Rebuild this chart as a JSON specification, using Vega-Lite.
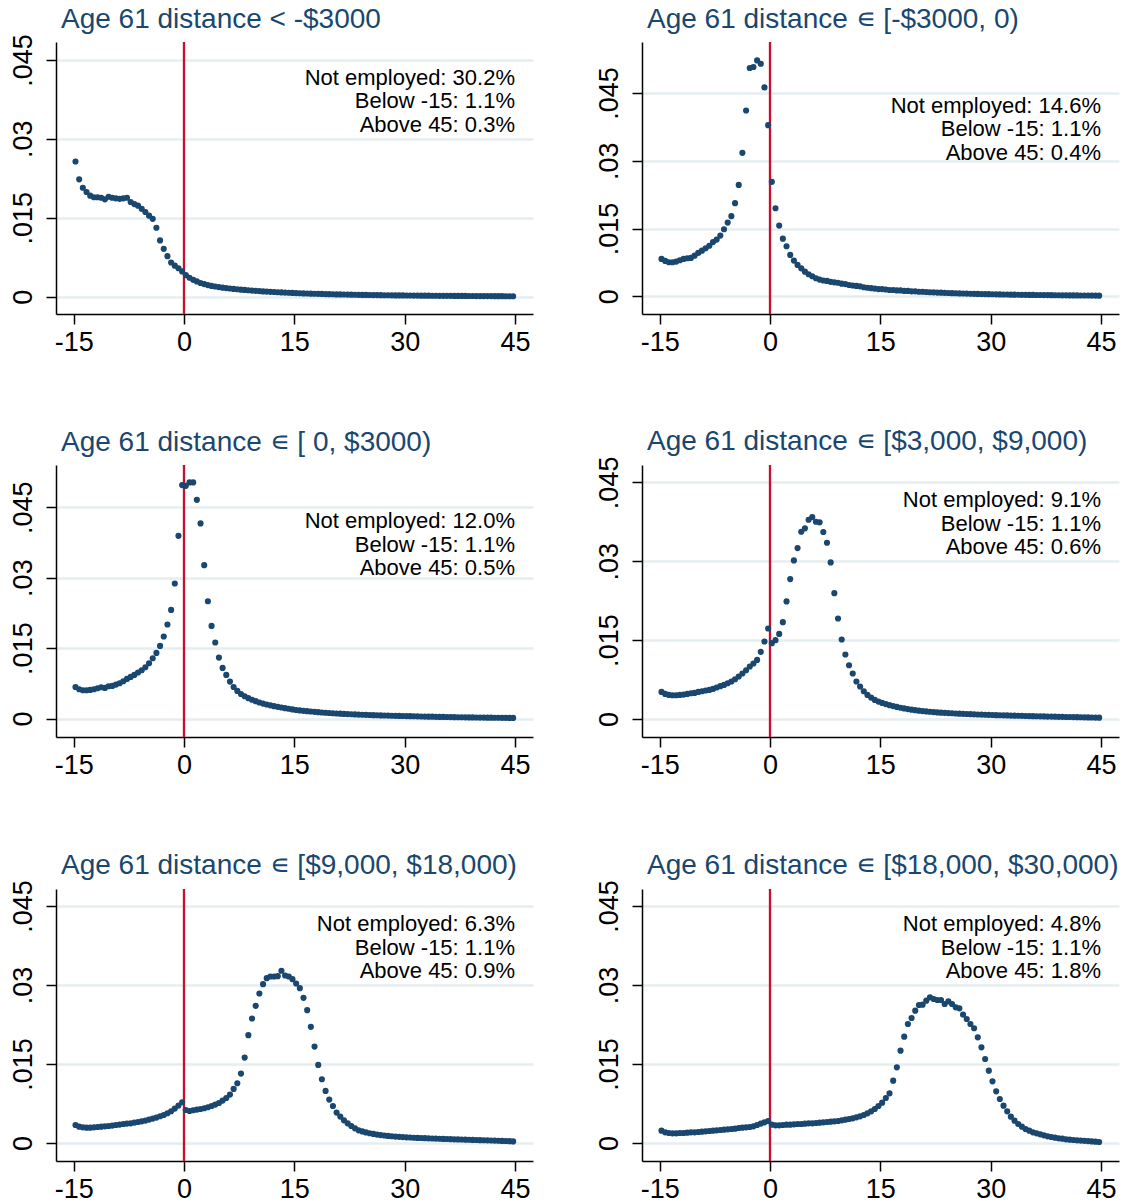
{
"$schema": "https://vega.github.io/schema/vega-lite/v6.json",
"background": "white",
"padding": {"left": 8, "top": 5, "right": 4, "bottom": 4},
"datasets": {
"p1": [{"x":-14.75,"y":0.0257},{"x":-14.25,"y":0.0223},{"x":-13.75,"y":0.0207},{"x":-13.25,"y":0.0199},{"x":-12.75,"y":0.0192},{"x":-12.25,"y":0.0189},{"x":-11.75,"y":0.0189},{"x":-11.25,"y":0.0188},{"x":-10.75,"y":0.0185},{"x":-10.25,"y":0.019},{"x":-9.75,"y":0.0188},{"x":-9.25,"y":0.0187},{"x":-8.75,"y":0.0186},{"x":-8.25,"y":0.0187},{"x":-7.75,"y":0.0188},{"x":-7.25,"y":0.018},{"x":-6.75,"y":0.0176},{"x":-6.25,"y":0.0173},{"x":-5.75,"y":0.0167},{"x":-5.25,"y":0.0161},{"x":-4.75,"y":0.0154},{"x":-4.25,"y":0.0148},{"x":-3.75,"y":0.0131},{"x":-3.25,"y":0.0107},{"x":-2.75,"y":0.0091},{"x":-2.25,"y":0.0077},{"x":-1.75,"y":0.0065},{"x":-1.25,"y":0.0059},{"x":-0.75,"y":0.0054},{"x":-0.25,"y":0.0048},{"x":0.25,"y":0.0041},{"x":0.75,"y":0.0036},{"x":1.25,"y":0.0032},{"x":1.75,"y":0.0029},{"x":2.25,"y":0.0026},{"x":2.75,"y":0.0024},{"x":3.25,"y":0.0022},{"x":3.75,"y":0.00205},{"x":4.25,"y":0.00193},{"x":4.75,"y":0.00182},{"x":5.25,"y":0.00172},{"x":5.75,"y":0.00164},{"x":6.25,"y":0.00156},{"x":6.75,"y":0.00148},{"x":7.25,"y":0.00141},{"x":7.75,"y":0.00134},{"x":8.25,"y":0.00128},{"x":8.75,"y":0.00122},{"x":9.25,"y":0.00116},{"x":9.75,"y":0.00111},{"x":10.25,"y":0.00106},{"x":10.75,"y":0.00101},{"x":11.25,"y":0.00097},{"x":11.75,"y":0.00093},{"x":12.25,"y":0.00089},{"x":12.75,"y":0.00085},{"x":13.25,"y":0.00081},{"x":13.75,"y":0.00078},{"x":14.25,"y":0.00075},{"x":14.75,"y":0.00072},{"x":15.25,"y":0.00069},{"x":15.75,"y":0.00066},{"x":16.25,"y":0.00063},{"x":16.75,"y":0.00061},{"x":17.25,"y":0.00058},{"x":17.75,"y":0.00056},{"x":18.25,"y":0.00054},{"x":18.75,"y":0.00052},{"x":19.25,"y":0.0005},{"x":19.75,"y":0.00048},{"x":20.25,"y":0.00046},{"x":20.75,"y":0.00044},{"x":21.25,"y":0.00043},{"x":21.75,"y":0.00041},{"x":22.25,"y":0.0004},{"x":22.75,"y":0.00038},{"x":23.25,"y":0.00037},{"x":23.75,"y":0.00036},{"x":24.25,"y":0.00034},{"x":24.75,"y":0.00033},{"x":25.25,"y":0.00032},{"x":25.75,"y":0.00031},{"x":26.25,"y":0.0003},{"x":26.75,"y":0.00029},{"x":27.25,"y":0.00028},{"x":27.75,"y":0.00027},{"x":28.25,"y":0.00026},{"x":28.75,"y":0.00025},{"x":29.25,"y":0.00024},{"x":29.75,"y":0.00024},{"x":30.25,"y":0.00023},{"x":30.75,"y":0.00022},{"x":31.25,"y":0.00021},{"x":31.75,"y":0.00021},{"x":32.25,"y":0.0002},{"x":32.75,"y":0.00019},{"x":33.25,"y":0.00019},{"x":33.75,"y":0.00018},{"x":34.25,"y":0.00018},{"x":34.75,"y":0.00017},{"x":35.25,"y":0.00017},{"x":35.75,"y":0.00016},{"x":36.25,"y":0.00016},{"x":36.75,"y":0.00015},{"x":37.25,"y":0.00015},{"x":37.75,"y":0.00014},{"x":38.25,"y":0.00014},{"x":38.75,"y":0.00013},{"x":39.25,"y":0.00013},{"x":39.75,"y":0.00012},{"x":40.25,"y":0.00012},{"x":40.75,"y":0.00012},{"x":41.25,"y":0.00011},{"x":41.75,"y":0.00011},{"x":42.25,"y":0.0001},{"x":42.75,"y":0.0001},{"x":43.25,"y":0.0001},{"x":43.75,"y":0.00009},{"x":44.25,"y":0.00009},{"x":44.75,"y":0.00009}],
"p2": [{"x":-14.75,"y":0.00827},{"x":-14.25,"y":0.00783},{"x":-13.75,"y":0.00754},{"x":-13.25,"y":0.00754},{"x":-12.75,"y":0.00768},{"x":-12.25,"y":0.00798},{"x":-11.75,"y":0.00827},{"x":-11.25,"y":0.00842},{"x":-10.75,"y":0.0085},{"x":-10.25,"y":0.009},{"x":-9.75,"y":0.0096},{"x":-9.25,"y":0.0101},{"x":-8.75,"y":0.01064},{"x":-8.25,"y":0.0112},{"x":-7.75,"y":0.012},{"x":-7.25,"y":0.01255},{"x":-6.75,"y":0.01344},{"x":-6.25,"y":0.01485},{"x":-5.75,"y":0.01632},{"x":-5.25,"y":0.01774},{"x":-4.75,"y":0.02062},{"x":-4.25,"y":0.02467},{"x":-3.75,"y":0.03177},{"x":-3.25,"y":0.04115},{"x":-2.75,"y":0.05055},{"x":-2.25,"y":0.05077},{"x":-1.75,"y":0.05223},{"x":-1.25,"y":0.0515},{"x":-0.75,"y":0.04625},{"x":-0.25,"y":0.0379},{"x":0.25,"y":0.02534},{"x":0.75,"y":0.0195},{"x":1.25,"y":0.01566},{"x":1.75,"y":0.01277},{"x":2.25,"y":0.01108},{"x":2.75,"y":0.00916},{"x":3.25,"y":0.0079},{"x":3.75,"y":0.00694},{"x":4.25,"y":0.0062},{"x":4.75,"y":0.00546},{"x":5.25,"y":0.00488},{"x":5.75,"y":0.00443},{"x":6.25,"y":0.004},{"x":6.75,"y":0.0037},{"x":7.25,"y":0.0035},{"x":7.75,"y":0.0034},{"x":8.25,"y":0.0032},{"x":8.75,"y":0.0031},{"x":9.25,"y":0.003},{"x":9.75,"y":0.0028},{"x":10.25,"y":0.0027},{"x":10.75,"y":0.0025},{"x":11.25,"y":0.0024},{"x":11.75,"y":0.0023},{"x":12.25,"y":0.0022},{"x":12.75,"y":0.002},{"x":13.25,"y":0.0019},{"x":13.75,"y":0.0018},{"x":14.25,"y":0.0017},{"x":14.75,"y":0.0016},{"x":15.25,"y":0.0016},{"x":15.75,"y":0.0015},{"x":16.25,"y":0.0014},{"x":16.75,"y":0.0014},{"x":17.25,"y":0.0013},{"x":17.75,"y":0.0013},{"x":18.25,"y":0.0012},{"x":18.75,"y":0.0012},{"x":19.25,"y":0.0011},{"x":19.75,"y":0.0011},{"x":20.25,"y":0.001},{"x":20.75,"y":0.001},{"x":21.25,"y":0.00095},{"x":21.75,"y":0.0009},{"x":22.25,"y":0.00087},{"x":22.75,"y":0.00083},{"x":23.25,"y":0.0008},{"x":23.75,"y":0.00076},{"x":24.25,"y":0.00073},{"x":24.75,"y":0.0007},{"x":25.25,"y":0.00067},{"x":25.75,"y":0.00064},{"x":26.25,"y":0.00062},{"x":26.75,"y":0.0006},{"x":27.25,"y":0.00057},{"x":27.75,"y":0.00055},{"x":28.25,"y":0.00053},{"x":28.75,"y":0.00051},{"x":29.25,"y":0.00049},{"x":29.75,"y":0.00047},{"x":30.25,"y":0.00045},{"x":30.75,"y":0.00043},{"x":31.25,"y":0.00042},{"x":31.75,"y":0.0004},{"x":32.25,"y":0.00039},{"x":32.75,"y":0.00037},{"x":33.25,"y":0.00036},{"x":33.75,"y":0.00035},{"x":34.25,"y":0.00033},{"x":34.75,"y":0.00032},{"x":35.25,"y":0.00031},{"x":35.75,"y":0.0003},{"x":36.25,"y":0.00029},{"x":36.75,"y":0.00028},{"x":37.25,"y":0.00027},{"x":37.75,"y":0.00026},{"x":38.25,"y":0.00025},{"x":38.75,"y":0.00024},{"x":39.25,"y":0.00023},{"x":39.75,"y":0.00022},{"x":40.25,"y":0.00021},{"x":40.75,"y":0.0002},{"x":41.25,"y":0.0002},{"x":41.75,"y":0.00019},{"x":42.25,"y":0.00018},{"x":42.75,"y":0.00017},{"x":43.25,"y":0.00017},{"x":43.75,"y":0.00016},{"x":44.25,"y":0.00015},{"x":44.75,"y":0.00014}],
"p3": [{"x":-14.75,"y":0.00673},{"x":-14.25,"y":0.00624},{"x":-13.75,"y":0.00603},{"x":-13.25,"y":0.00603},{"x":-12.75,"y":0.0061},{"x":-12.25,"y":0.00624},{"x":-11.75,"y":0.00645},{"x":-11.25,"y":0.00667},{"x":-10.75,"y":0.00652},{"x":-10.25,"y":0.00688},{"x":-9.75,"y":0.00695},{"x":-9.25,"y":0.00724},{"x":-8.75,"y":0.00752},{"x":-8.25,"y":0.00795},{"x":-7.75,"y":0.00844},{"x":-7.25,"y":0.00886},{"x":-6.75,"y":0.00929},{"x":-6.25,"y":0.0098},{"x":-5.75,"y":0.01029},{"x":-5.25,"y":0.01093},{"x":-4.75,"y":0.01178},{"x":-4.25,"y":0.01284},{"x":-3.75,"y":0.01398},{"x":-3.25,"y":0.01547},{"x":-2.75,"y":0.01747},{"x":-2.25,"y":0.02002},{"x":-1.75,"y":0.02313},{"x":-1.25,"y":0.02875},{"x":-0.75,"y":0.0389},{"x":-0.25,"y":0.04969},{"x":0.25,"y":0.04954},{"x":0.75,"y":0.05027},{"x":1.25,"y":0.05027},{"x":1.75,"y":0.04656},{"x":2.25,"y":0.04153},{"x":2.75,"y":0.03265},{"x":3.25,"y":0.02498},{"x":3.75,"y":0.01972},{"x":4.25,"y":0.01619},{"x":4.75,"y":0.01299},{"x":5.25,"y":0.01078},{"x":5.75,"y":0.00929},{"x":6.25,"y":0.00788},{"x":6.75,"y":0.00673},{"x":7.25,"y":0.00588},{"x":7.75,"y":0.00524},{"x":8.25,"y":0.00475},{"x":8.75,"y":0.00435},{"x":9.25,"y":0.004},{"x":9.75,"y":0.0037},{"x":10.25,"y":0.00343},{"x":10.75,"y":0.0032},{"x":11.25,"y":0.003},{"x":11.75,"y":0.00282},{"x":12.25,"y":0.00265},{"x":12.75,"y":0.0025},{"x":13.25,"y":0.00235},{"x":13.75,"y":0.00222},{"x":14.25,"y":0.0021},{"x":14.75,"y":0.00195},{"x":15.25,"y":0.00183},{"x":15.75,"y":0.00174},{"x":16.25,"y":0.00165},{"x":16.75,"y":0.00157},{"x":17.25,"y":0.0015},{"x":17.75,"y":0.00143},{"x":18.25,"y":0.00136},{"x":18.75,"y":0.0013},{"x":19.25,"y":0.00124},{"x":19.75,"y":0.00118},{"x":20.25,"y":0.00113},{"x":20.75,"y":0.00108},{"x":21.25,"y":0.00104},{"x":21.75,"y":0.001},{"x":22.25,"y":0.00096},{"x":22.75,"y":0.00092},{"x":23.25,"y":0.00088},{"x":23.75,"y":0.00085},{"x":24.25,"y":0.00082},{"x":24.75,"y":0.00079},{"x":25.25,"y":0.00076},{"x":25.75,"y":0.00073},{"x":26.25,"y":0.00071},{"x":26.75,"y":0.00068},{"x":27.25,"y":0.00066},{"x":27.75,"y":0.00063},{"x":28.25,"y":0.00061},{"x":28.75,"y":0.00059},{"x":29.25,"y":0.00057},{"x":29.75,"y":0.00055},{"x":30.25,"y":0.00053},{"x":30.75,"y":0.00051},{"x":31.25,"y":0.00049},{"x":31.75,"y":0.00047},{"x":32.25,"y":0.00045},{"x":32.75,"y":0.00043},{"x":33.25,"y":0.00041},{"x":33.75,"y":0.0004},{"x":34.25,"y":0.00038},{"x":34.75,"y":0.00036},{"x":35.25,"y":0.00035},{"x":35.75,"y":0.00033},{"x":36.25,"y":0.00032},{"x":36.75,"y":0.0003},{"x":37.25,"y":0.00029},{"x":37.75,"y":0.00028},{"x":38.25,"y":0.00026},{"x":38.75,"y":0.00025},{"x":39.25,"y":0.00024},{"x":39.75,"y":0.00023},{"x":40.25,"y":0.00022},{"x":40.75,"y":0.00021},{"x":41.25,"y":0.0002},{"x":41.75,"y":0.00019},{"x":42.25,"y":0.00018},{"x":42.75,"y":0.00017},{"x":43.25,"y":0.00016},{"x":43.75,"y":0.00016},{"x":44.25,"y":0.00015},{"x":44.75,"y":0.00014}],
"p4": [{"x":-14.75,"y":0.00514},{"x":-14.25,"y":0.00476},{"x":-13.75,"y":0.00457},{"x":-13.25,"y":0.00451},{"x":-12.75,"y":0.00451},{"x":-12.25,"y":0.00457},{"x":-11.75,"y":0.00464},{"x":-11.25,"y":0.00476},{"x":-10.75,"y":0.00489},{"x":-10.25,"y":0.00495},{"x":-9.75,"y":0.00514},{"x":-9.25,"y":0.00527},{"x":-8.75,"y":0.00541},{"x":-8.25,"y":0.00552},{"x":-7.75,"y":0.00571},{"x":-7.25,"y":0.00598},{"x":-6.75,"y":0.00623},{"x":-6.25,"y":0.00647},{"x":-5.75,"y":0.0068},{"x":-5.25,"y":0.00712},{"x":-4.75,"y":0.00756},{"x":-4.25,"y":0.00807},{"x":-3.75,"y":0.00864},{"x":-3.25,"y":0.00927},{"x":-2.75,"y":0.00997},{"x":-2.25,"y":0.01055},{"x":-1.75,"y":0.01123},{"x":-1.25,"y":0.01276},{"x":-0.75,"y":0.01473},{"x":-0.25,"y":0.01721},{"x":0.25,"y":0.01441},{"x":0.75,"y":0.01498},{"x":1.25,"y":0.01618},{"x":1.75,"y":0.01841},{"x":2.25,"y":0.02235},{"x":2.75,"y":0.0266},{"x":3.25,"y":0.03016},{"x":3.75,"y":0.0325},{"x":4.25,"y":0.0356},{"x":4.75,"y":0.03625},{"x":5.25,"y":0.03789},{"x":5.75,"y":0.0384},{"x":6.25,"y":0.03751},{"x":6.75,"y":0.03739},{"x":7.25,"y":0.03555},{"x":7.75,"y":0.03351},{"x":8.25,"y":0.02978},{"x":8.75,"y":0.02393},{"x":9.25,"y":0.01911},{"x":9.75,"y":0.01512},{"x":10.25,"y":0.01226},{"x":10.75,"y":0.01022},{"x":11.25,"y":0.00864},{"x":11.75,"y":0.00712},{"x":12.25,"y":0.00617},{"x":12.75,"y":0.00527},{"x":13.25,"y":0.00457},{"x":13.75,"y":0.00407},{"x":14.25,"y":0.00362},{"x":14.75,"y":0.0033},{"x":15.25,"y":0.00305},{"x":15.75,"y":0.00283},{"x":16.25,"y":0.00263},{"x":16.75,"y":0.00245},{"x":17.25,"y":0.00229},{"x":17.75,"y":0.00214},{"x":18.25,"y":0.002},{"x":18.75,"y":0.00188},{"x":19.25,"y":0.00177},{"x":19.75,"y":0.00167},{"x":20.25,"y":0.00158},{"x":20.75,"y":0.0015},{"x":21.25,"y":0.00143},{"x":21.75,"y":0.00137},{"x":22.25,"y":0.00131},{"x":22.75,"y":0.00125},{"x":23.25,"y":0.0012},{"x":23.75,"y":0.00116},{"x":24.25,"y":0.00112},{"x":24.75,"y":0.00108},{"x":25.25,"y":0.00104},{"x":25.75,"y":0.001},{"x":26.25,"y":0.00097},{"x":26.75,"y":0.00094},{"x":27.25,"y":0.00091},{"x":27.75,"y":0.00088},{"x":28.25,"y":0.00085},{"x":28.75,"y":0.00083},{"x":29.25,"y":0.0008},{"x":29.75,"y":0.00078},{"x":30.25,"y":0.00076},{"x":30.75,"y":0.00073},{"x":31.25,"y":0.00071},{"x":31.75,"y":0.00069},{"x":32.25,"y":0.00067},{"x":32.75,"y":0.00065},{"x":33.25,"y":0.00063},{"x":33.75,"y":0.00061},{"x":34.25,"y":0.00059},{"x":34.75,"y":0.00057},{"x":35.25,"y":0.00055},{"x":35.75,"y":0.00053},{"x":36.25,"y":0.00051},{"x":36.75,"y":0.0005},{"x":37.25,"y":0.00048},{"x":37.75,"y":0.00046},{"x":38.25,"y":0.00045},{"x":38.75,"y":0.00043},{"x":39.25,"y":0.00041},{"x":39.75,"y":0.0004},{"x":40.25,"y":0.00038},{"x":40.75,"y":0.00037},{"x":41.25,"y":0.00035},{"x":41.75,"y":0.00034},{"x":42.25,"y":0.00032},{"x":42.75,"y":0.00031},{"x":43.25,"y":0.0003},{"x":43.75,"y":0.00028},{"x":44.25,"y":0.00027},{"x":44.75,"y":0.00025}],
"p5": [{"x":-14.75,"y":0.00342},{"x":-14.25,"y":0.0031},{"x":-13.75,"y":0.00298},{"x":-13.25,"y":0.00291},{"x":-12.75,"y":0.00291},{"x":-12.25,"y":0.00298},{"x":-11.75,"y":0.00304},{"x":-11.25,"y":0.0031},{"x":-10.75,"y":0.00317},{"x":-10.25,"y":0.00323},{"x":-9.75,"y":0.0033},{"x":-9.25,"y":0.00342},{"x":-8.75,"y":0.00349},{"x":-8.25,"y":0.00361},{"x":-7.75,"y":0.00368},{"x":-7.25,"y":0.00374},{"x":-6.75,"y":0.00387},{"x":-6.25,"y":0.00399},{"x":-5.75,"y":0.00412},{"x":-5.25,"y":0.00425},{"x":-4.75,"y":0.00444},{"x":-4.25,"y":0.00463},{"x":-3.75,"y":0.00482},{"x":-3.25,"y":0.00507},{"x":-2.75,"y":0.00532},{"x":-2.25,"y":0.00564},{"x":-1.75,"y":0.00602},{"x":-1.25,"y":0.00653},{"x":-0.75,"y":0.0071},{"x":-0.25,"y":0.00773},{"x":0.25,"y":0.00627},{"x":0.75,"y":0.00608},{"x":1.25,"y":0.00621},{"x":1.75,"y":0.00634},{"x":2.25,"y":0.00646},{"x":2.75,"y":0.00659},{"x":3.25,"y":0.00678},{"x":3.75,"y":0.00703},{"x":4.25,"y":0.00729},{"x":4.75,"y":0.0076},{"x":5.25,"y":0.00805},{"x":5.75,"y":0.00855},{"x":6.25,"y":0.00919},{"x":6.75,"y":0.01027},{"x":7.25,"y":0.01134},{"x":7.75,"y":0.01318},{"x":8.25,"y":0.01622},{"x":8.75,"y":0.02047},{"x":9.25,"y":0.02364},{"x":9.75,"y":0.02604},{"x":10.25,"y":0.02839},{"x":10.75,"y":0.03016},{"x":11.25,"y":0.0313},{"x":11.75,"y":0.03162},{"x":12.25,"y":0.03162},{"x":12.75,"y":0.03168},{"x":13.25,"y":0.0327},{"x":13.75,"y":0.03181},{"x":14.25,"y":0.03162},{"x":14.75,"y":0.03111},{"x":15.25,"y":0.03029},{"x":15.75,"y":0.0294},{"x":16.25,"y":0.02756},{"x":16.75,"y":0.02522},{"x":17.25,"y":0.02205},{"x":17.75,"y":0.01831},{"x":18.25,"y":0.01483},{"x":18.75,"y":0.0121},{"x":19.25,"y":0.00989},{"x":19.75,"y":0.00824},{"x":20.25,"y":0.00703},{"x":20.75,"y":0.00577},{"x":21.25,"y":0.00501},{"x":21.75,"y":0.00431},{"x":22.25,"y":0.00374},{"x":22.75,"y":0.00323},{"x":23.25,"y":0.00279},{"x":23.75,"y":0.00241},{"x":24.25,"y":0.0022},{"x":24.75,"y":0.002},{"x":25.25,"y":0.00185},{"x":25.75,"y":0.00172},{"x":26.25,"y":0.0016},{"x":26.75,"y":0.0015},{"x":27.25,"y":0.00142},{"x":27.75,"y":0.00135},{"x":28.25,"y":0.00128},{"x":28.75,"y":0.00122},{"x":29.25,"y":0.00117},{"x":29.75,"y":0.00112},{"x":30.25,"y":0.00108},{"x":30.75,"y":0.00104},{"x":31.25,"y":0.001},{"x":31.75,"y":0.00097},{"x":32.25,"y":0.00094},{"x":32.75,"y":0.00091},{"x":33.25,"y":0.00088},{"x":33.75,"y":0.00085},{"x":34.25,"y":0.00083},{"x":34.75,"y":0.0008},{"x":35.25,"y":0.00078},{"x":35.75,"y":0.00075},{"x":36.25,"y":0.00073},{"x":36.75,"y":0.0007},{"x":37.25,"y":0.00068},{"x":37.75,"y":0.00066},{"x":38.25,"y":0.00063},{"x":38.75,"y":0.00061},{"x":39.25,"y":0.00058},{"x":39.75,"y":0.00056},{"x":40.25,"y":0.00054},{"x":40.75,"y":0.00052},{"x":41.25,"y":0.0005},{"x":41.75,"y":0.00047},{"x":42.25,"y":0.00045},{"x":42.75,"y":0.00042},{"x":43.25,"y":0.0004},{"x":43.75,"y":0.00037},{"x":44.25,"y":0.00034},{"x":44.75,"y":0.0003}],
"p6": [{"x":-14.75,"y":0.00234},{"x":-14.25,"y":0.00203},{"x":-13.75,"y":0.0019},{"x":-13.25,"y":0.00184},{"x":-12.75,"y":0.00184},{"x":-12.25,"y":0.0019},{"x":-11.75,"y":0.0019},{"x":-11.25,"y":0.00196},{"x":-10.75,"y":0.00203},{"x":-10.25,"y":0.00203},{"x":-9.75,"y":0.00209},{"x":-9.25,"y":0.00215},{"x":-8.75,"y":0.00222},{"x":-8.25,"y":0.00228},{"x":-7.75,"y":0.00234},{"x":-7.25,"y":0.00241},{"x":-6.75,"y":0.00247},{"x":-6.25,"y":0.00253},{"x":-5.75,"y":0.0026},{"x":-5.25,"y":0.00266},{"x":-4.75,"y":0.00272},{"x":-4.25,"y":0.00285},{"x":-3.75,"y":0.00291},{"x":-3.25,"y":0.00298},{"x":-2.75,"y":0.00304},{"x":-2.25,"y":0.00317},{"x":-1.75,"y":0.00342},{"x":-1.25,"y":0.00368},{"x":-0.75,"y":0.00393},{"x":-0.25,"y":0.00418},{"x":0.25,"y":0.00348},{"x":0.75,"y":0.00335},{"x":1.25,"y":0.00335},{"x":1.75,"y":0.00342},{"x":2.25,"y":0.00348},{"x":2.75,"y":0.00348},{"x":3.25,"y":0.00354},{"x":3.75,"y":0.00361},{"x":4.25,"y":0.00361},{"x":4.75,"y":0.00367},{"x":5.25,"y":0.00373},{"x":5.75,"y":0.00373},{"x":6.25,"y":0.0038},{"x":6.75,"y":0.00386},{"x":7.25,"y":0.00392},{"x":7.75,"y":0.00399},{"x":8.25,"y":0.00405},{"x":8.75,"y":0.00411},{"x":9.25,"y":0.00418},{"x":9.75,"y":0.0043},{"x":10.25,"y":0.00443},{"x":10.75,"y":0.00456},{"x":11.25,"y":0.00468},{"x":11.75,"y":0.00487},{"x":12.25,"y":0.00506},{"x":12.75,"y":0.00532},{"x":13.25,"y":0.00563},{"x":13.75,"y":0.00601},{"x":14.25,"y":0.00646},{"x":14.75,"y":0.00703},{"x":15.25,"y":0.00766},{"x":15.75,"y":0.00855},{"x":16.25,"y":0.00943},{"x":16.75,"y":0.01184},{"x":17.25,"y":0.01437},{"x":17.75,"y":0.01753},{"x":18.25,"y":0.02019},{"x":18.75,"y":0.0226},{"x":19.25,"y":0.02374},{"x":19.75,"y":0.02513},{"x":20.25,"y":0.0262},{"x":20.75,"y":0.02627},{"x":21.25,"y":0.02703},{"x":21.75,"y":0.02766},{"x":22.25,"y":0.02735},{"x":22.75,"y":0.02716},{"x":23.25,"y":0.02716},{"x":23.75,"y":0.0264},{"x":24.25,"y":0.0269},{"x":24.75,"y":0.0264},{"x":25.25,"y":0.02576},{"x":25.75,"y":0.02557},{"x":26.25,"y":0.02437},{"x":26.75,"y":0.02355},{"x":27.25,"y":0.0226},{"x":27.75,"y":0.02178},{"x":28.25,"y":0.02007},{"x":28.75,"y":0.01817},{"x":29.25,"y":0.01595},{"x":29.75,"y":0.01374},{"x":30.25,"y":0.01171},{"x":30.75,"y":0.00981},{"x":31.25,"y":0.00836},{"x":31.75,"y":0.00709},{"x":32.25,"y":0.00601},{"x":32.75,"y":0.005},{"x":33.25,"y":0.00424},{"x":33.75,"y":0.00361},{"x":34.25,"y":0.0031},{"x":34.75,"y":0.00266},{"x":35.25,"y":0.00234},{"x":35.75,"y":0.00203},{"x":36.25,"y":0.00184},{"x":36.75,"y":0.00165},{"x":37.25,"y":0.00146},{"x":37.75,"y":0.00127},{"x":38.25,"y":0.00114},{"x":38.75,"y":0.00101},{"x":39.25,"y":0.00089},{"x":39.75,"y":0.00082},{"x":40.25,"y":0.0007},{"x":40.75,"y":0.00063},{"x":41.25,"y":0.00057},{"x":41.75,"y":0.00051},{"x":42.25,"y":0.00046},{"x":42.75,"y":0.00041},{"x":43.25,"y":0.00036},{"x":43.75,"y":0.0003},{"x":44.25,"y":0.00025},{"x":44.75,"y":0.00018}]
},
"spacing": 73,
"vconcat": [
{"spacing": 61, "hconcat": [
{"width": 477, "height": 272, "title": {"text": "Age 61 distance < -$3000", "offset": 0},
 "layer": [
  {"data": {"values": [{}]}, "mark": {"type": "rule", "color": "#c8102e", "strokeWidth": 2.3}, "encoding": {"x": {"datum": 0, "type": "quantitative", "scale": {"domain": [-17.4, 47.45], "nice": false, "zero": false}, "axis": {"values": [-15, 0, 15, 30, 45], "labelExpr": "toString(datum.value)"}}}},
  {"data": {"name": "p1"}, "mark": {"type": "circle", "size": 38, "opacity": 1, "color": "#1a476f"}, "encoding": {"x": {"field": "x", "type": "quantitative"}, "y": {"field": "y", "type": "quantitative", "scale": {"domain": [-0.00329, 0.04841], "nice": false, "zero": false}, "axis": {"values": [0, 0.015, 0.03, 0.045], "labelExpr": "datum.value == 0 ? '0' : substring(toString(datum.value), 1)"}}}},
  {"data": {"values": [{}]}, "mark": {"type": "text", "text": ["Not employed: 30.2%", "Below -15: 1.1%", "Above 45: 0.3%"], "align": "right", "baseline": "alphabetic", "fontSize": 22, "lineHeight": 23.5, "color": "black"}, "encoding": {"x": {"datum": 45, "type": "quantitative"}, "y": {"datum": 0.04029, "type": "quantitative"}}}
 ]},
{"width": 477, "height": 272, "title": {"text": "Age 61 distance ∊ [-$3000, 0)", "offset": 7},
 "layer": [
  {"data": {"values": [{}]}, "mark": {"type": "rule", "color": "#c8102e", "strokeWidth": 2.3}, "encoding": {"x": {"datum": 0, "type": "quantitative", "scale": {"domain": [-17.4, 47.45], "nice": false, "zero": false}, "axis": {"values": [-15, 0, 15, 30, 45], "labelExpr": "toString(datum.value)"}}}},
  {"data": {"name": "p2"}, "mark": {"type": "circle", "size": 38, "opacity": 1, "color": "#1a476f"}, "encoding": {"x": {"field": "x", "type": "quantitative"}, "y": {"field": "y", "type": "quantitative", "scale": {"domain": [-0.00392, 0.05631], "nice": false, "zero": false}, "axis": {"values": [0, 0.015, 0.03, 0.045], "labelExpr": "datum.value == 0 ? '0' : substring(toString(datum.value), 1)"}}}},
  {"data": {"values": [{}]}, "mark": {"type": "text", "text": ["Not employed: 14.6%", "Below -15: 1.1%", "Above 45: 0.4%"], "align": "right", "baseline": "alphabetic", "fontSize": 22, "lineHeight": 23.5, "color": "black"}, "encoding": {"x": {"datum": 45, "type": "quantitative"}, "y": {"datum": 0.04063, "type": "quantitative"}}}
 ]}
]},
{"spacing": 61, "hconcat": [
{"width": 477, "height": 272, "title": {"text": "Age 61 distance ∊ [ 0, $3000)", "offset": 7},
 "layer": [
  {"data": {"values": [{}]}, "mark": {"type": "rule", "color": "#c8102e", "strokeWidth": 2.3}, "encoding": {"x": {"datum": 0, "type": "quantitative", "scale": {"domain": [-17.4, 47.45], "nice": false, "zero": false}, "axis": {"values": [-15, 0, 15, 30, 45], "labelExpr": "toString(datum.value)"}}}},
  {"data": {"name": "p3"}, "mark": {"type": "circle", "size": 38, "opacity": 1, "color": "#1a476f"}, "encoding": {"x": {"field": "x", "type": "quantitative"}, "y": {"field": "y", "type": "quantitative", "scale": {"domain": [-0.00392, 0.05397], "nice": false, "zero": false}, "axis": {"values": [0, 0.015, 0.03, 0.045], "labelExpr": "datum.value == 0 ? '0' : substring(toString(datum.value), 1)"}}}},
  {"data": {"values": [{}]}, "mark": {"type": "text", "text": ["Not employed: 12.0%", "Below -15: 1.1%", "Above 45: 0.5%"], "align": "right", "baseline": "alphabetic", "fontSize": 22, "lineHeight": 23.5, "color": "black"}, "encoding": {"x": {"datum": 45, "type": "quantitative"}, "y": {"datum": 0.04055, "type": "quantitative"}}}
 ]},
{"width": 477, "height": 272, "title": {"text": "Age 61 distance ∊ [$3,000, $9,000)", "offset": 0},
 "layer": [
  {"data": {"values": [{}]}, "mark": {"type": "rule", "color": "#c8102e", "strokeWidth": 2.3}, "encoding": {"x": {"datum": 0, "type": "quantitative", "scale": {"domain": [-17.4, 47.45], "nice": false, "zero": false}, "axis": {"values": [-15, 0, 15, 30, 45], "labelExpr": "toString(datum.value)"}}}},
  {"data": {"name": "p4"}, "mark": {"type": "circle", "size": 38, "opacity": 1, "color": "#1a476f"}, "encoding": {"x": {"field": "x", "type": "quantitative"}, "y": {"field": "y", "type": "quantitative", "scale": {"domain": [-0.00343, 0.0483], "nice": false, "zero": false}, "axis": {"values": [0, 0.015, 0.03, 0.045], "labelExpr": "datum.value == 0 ? '0' : substring(toString(datum.value), 1)"}}}},
  {"data": {"values": [{}]}, "mark": {"type": "text", "text": ["Not employed: 9.1%", "Below -15: 1.1%", "Above 45: 0.6%"], "align": "right", "baseline": "alphabetic", "fontSize": 22, "lineHeight": 23.5, "color": "black"}, "encoding": {"x": {"datum": 45, "type": "quantitative"}, "y": {"datum": 0.04024, "type": "quantitative"}}}
 ]}
]},
{"spacing": 61, "hconcat": [
{"width": 477, "height": 272, "title": {"text": "Age 61 distance ∊ [$9,000, $18,000)", "offset": 0},
 "layer": [
  {"data": {"values": [{}]}, "mark": {"type": "rule", "color": "#c8102e", "strokeWidth": 2.3}, "encoding": {"x": {"datum": 0, "type": "quantitative", "scale": {"domain": [-17.4, 47.45], "nice": false, "zero": false}, "axis": {"values": [-15, 0, 15, 30, 45], "labelExpr": "toString(datum.value)"}}}},
  {"data": {"name": "p5"}, "mark": {"type": "circle", "size": 38, "opacity": 1, "color": "#1a476f"}, "encoding": {"x": {"field": "x", "type": "quantitative"}, "y": {"field": "y", "type": "quantitative", "scale": {"domain": [-0.00342, 0.04823], "nice": false, "zero": false}, "axis": {"values": [0, 0.015, 0.03, 0.045], "labelExpr": "datum.value == 0 ? '0' : substring(toString(datum.value), 1)"}}}},
  {"data": {"values": [{}]}, "mark": {"type": "text", "text": ["Not employed: 6.3%", "Below -15: 1.1%", "Above 45: 0.9%"], "align": "right", "baseline": "alphabetic", "fontSize": 22, "lineHeight": 23.5, "color": "black"}, "encoding": {"x": {"datum": 45, "type": "quantitative"}, "y": {"datum": 0.04017, "type": "quantitative"}}}
 ]},
{"width": 477, "height": 272, "title": {"text": "Age 61 distance ∊ [$18,000, $30,000)", "offset": 0},
 "layer": [
  {"data": {"values": [{}]}, "mark": {"type": "rule", "color": "#c8102e", "strokeWidth": 2.3}, "encoding": {"x": {"datum": 0, "type": "quantitative", "scale": {"domain": [-17.4, 47.45], "nice": false, "zero": false}, "axis": {"values": [-15, 0, 15, 30, 45], "labelExpr": "toString(datum.value)"}}}},
  {"data": {"name": "p6"}, "mark": {"type": "circle", "size": 38, "opacity": 1, "color": "#1a476f"}, "encoding": {"x": {"field": "x", "type": "quantitative"}, "y": {"field": "y", "type": "quantitative", "scale": {"domain": [-0.00342, 0.04823], "nice": false, "zero": false}, "axis": {"values": [0, 0.015, 0.03, 0.045], "labelExpr": "datum.value == 0 ? '0' : substring(toString(datum.value), 1)"}}}},
  {"data": {"values": [{}]}, "mark": {"type": "text", "text": ["Not employed: 4.8%", "Below -15: 1.1%", "Above 45: 1.8%"], "align": "right", "baseline": "alphabetic", "fontSize": 22, "lineHeight": 23.5, "color": "black"}, "encoding": {"x": {"datum": 45, "type": "quantitative"}, "y": {"datum": 0.04017, "type": "quantitative"}}}
 ]}
]}
],
"config": {
 "view": {"stroke": null},
 "font": "Liberation Sans",
 "axis": {"title": null, "domainColor": "black", "domainWidth": 1.5, "tickColor": "black", "tickWidth": 1.5, "tickSize": 10, "labelFontSize": 27, "labelColor": "black", "labelFont": "Liberation Sans", "grid": false, "labelOverlap": false, "labelFlush": false},
 "axisX": {"labelPadding": 5},
 "axisY": {"grid": true, "gridColor": "#e6eef1", "gridWidth": 2.5, "labelAngle": 270, "labelAlign": "center", "labelBaseline": "alphabetic", "labelPadding": 15},
 "title": {"anchor": "start", "frame": "group", "fontSize": 28, "font": "Liberation Sans", "fontWeight": "normal", "color": "#1a476f", "dx": 5, "baseline": "alphabetic"}
}
}
